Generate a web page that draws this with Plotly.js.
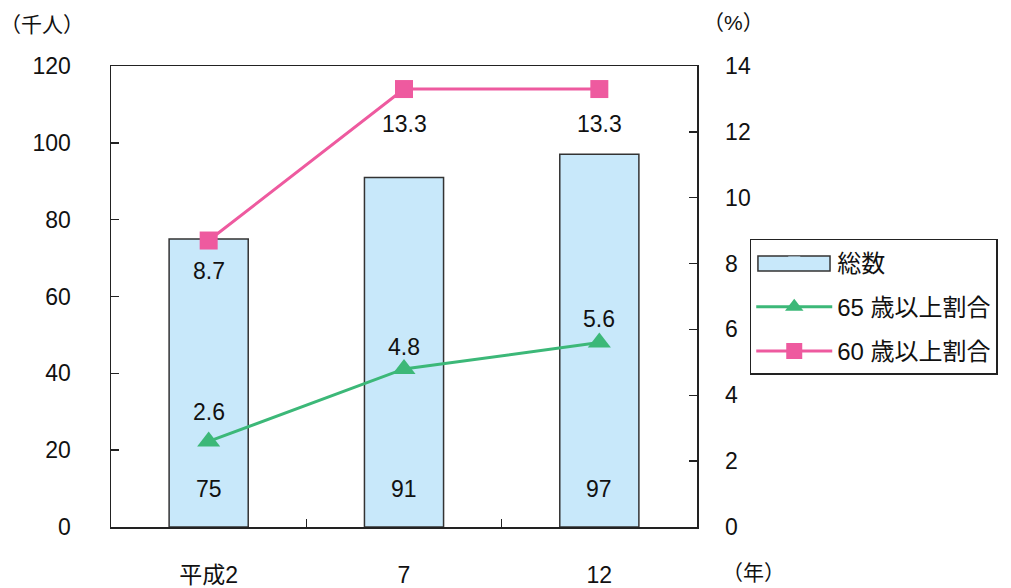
<!DOCTYPE html>
<html><head><meta charset="utf-8">
<script src="https://cdn.plot.ly/plotly-3.0.1.min.js"></script>
<style>html,body{margin:0;padding:0;background:#fff}</style>
</head><body><div id="chart" style="width:1011px;height:588px"></div>
<script>
const categories = ['平成2', '7', '12'];
const totals = [75, 91, 97];
const ratio65 = [2.6, 4.8, 5.6];
const ratio60 = [8.7, 13.3, 13.3];
const leftTicks = [0, 20, 40, 60, 80, 100, 120];
const rightTicks = [0, 2, 4, 6, 8, 10, 12, 14];
const ratio65Shift = [29, 22, 24];
const ratio60Shift = [-30, -35, -35];

const FONT = 'Liberation Sans, Arial, Noto Sans CJK JP, sans-serif';
const BAR_FILL = '#c8e8fa';
const FS = 23;

const traces = [
  {type: 'bar', name: '総数', x: categories, y: totals, showlegend: false,
   marker: {color: BAR_FILL, line: {color: '#333', width: 1.5}},
   width: 0.405, hoverinfo: 'skip'},
  {type: 'bar', name: '総数', x: [categories[0]], y: [0], legendgroup: 'a', width: 0.405,
   marker: {color: BAR_FILL, opacity: 0, line: {color: BAR_FILL, width: 0}}, hoverinfo: 'skip'},
  {type: 'scatter', mode: 'lines+markers', name: '65 歳以上割合', x: categories, y: ratio65, legendgroup: 'b',
   yaxis: 'y2', line: {color: '#3cb878', width: 3},
   marker: {symbol: 'triangle-up', size: 20, color: '#3cb878'}},
  {type: 'scatter', mode: 'lines+markers', name: '60 歳以上割合', x: categories, y: ratio60, legendgroup: 'c',
   yaxis: 'y2', line: {color: '#ee5a9f', width: 3},
   marker: {symbol: 'square', size: 18, color: '#ee5a9f'}}
];

const annotations = [];
categories.forEach((c, i) => {
  annotations.push({x: i, y: 10, xref: 'x', yref: 'y', text: String(totals[i]), showarrow: false,
    font: {size: FS, color: '#111'}});
  annotations.push({x: i, y: ratio65[i], xref: 'x', yref: 'y2', text: ratio65[i].toFixed(1), showarrow: false,
    yshift: ratio65Shift[i], font: {size: FS, color: '#111'}});
  annotations.push({x: i, y: ratio60[i], xref: 'x', yref: 'y2', text: ratio60[i].toFixed(1), showarrow: false,
    yshift: ratio60Shift[i], font: {size: FS, color: '#111'}});
});
annotations.push({xref: 'paper', yref: 'paper', x: -0.118, y: 1.089, xanchor: 'center', yanchor: 'middle',
  text: '（千人）', showarrow: false, font: {size: 21, color: '#111'}});
annotations.push({xref: 'paper', yref: 'paper', x: 1.063, y: 1.095, xanchor: 'center', yanchor: 'middle',
  text: '（%）', showarrow: false, font: {size: 21, color: '#111'}});
annotations.push({xref: 'paper', yref: 'paper', x: 1.096, y: -0.098, xanchor: 'center', yanchor: 'middle',
  text: '（年）', showarrow: false, font: {size: 21, color: '#111'}});

const layout = {
  width: 1011, height: 588,
  margin: {l: 111, r: 314, t: 66, b: 61},
  paper_bgcolor: '#fff', plot_bgcolor: '#fff',
  font: {family: FONT, size: FS, color: '#111'},
  showlegend: true,
  barmode: 'overlay',
  legend: {x: 1.09, y: 0.625, xanchor: 'left', yanchor: 'top', bordercolor: '#222', borderwidth: 1.5,
    bgcolor: 'rgba(0,0,0,0)', font: {size: 24}, itemwidth: 76, tracegroupgap: 10, traceorder: 'grouped'},
  bargap: 0,
  xaxis: {type: 'category', range: [-0.5, 2.5], autorange: false, tickson: 'boundaries', ticks: 'inside', ticklen: 8,
    tickcolor: '#222', tickwidth: 1.5, tickangle: 0,
    showline: true, mirror: true, linecolor: '#222', linewidth: 1.5, showgrid: false, zeroline: false,
    ticklabelstandoff: 27, tickfont: {size: FS}},
  yaxis: {range: [0, 120], tickvals: leftTicks, ticks: 'inside', ticklen: 8, tickcolor: '#222', tickwidth: 1.5,
    showline: true, linecolor: '#222', linewidth: 1.5, showgrid: false, zeroline: false,
    ticklabelstandoff: 34, tickfont: {size: FS}},
  yaxis2: {range: [0, 14], tickvals: rightTicks, overlaying: 'y', side: 'right', ticks: 'inside', ticklen: 8,
    tickcolor: '#222', tickwidth: 1.5, showline: true, linecolor: '#222', linewidth: 1.5,
    showgrid: false, zeroline: false, ticklabelstandoff: 22, tickfont: {size: FS}},
  shapes: [
    {type: 'rect', xref: 'paper', yref: 'paper', layer: 'above',
     x0: 1.104, x1: 1.227, y0: 0.5553, y1: 0.5879,
     fillcolor: BAR_FILL, line: {color: '#333', width: 1.5}}
  ],
  annotations: annotations
};

Plotly.newPlot('chart', traces, layout, {displayModeBar: false, staticPlot: true});
</script></body></html>
